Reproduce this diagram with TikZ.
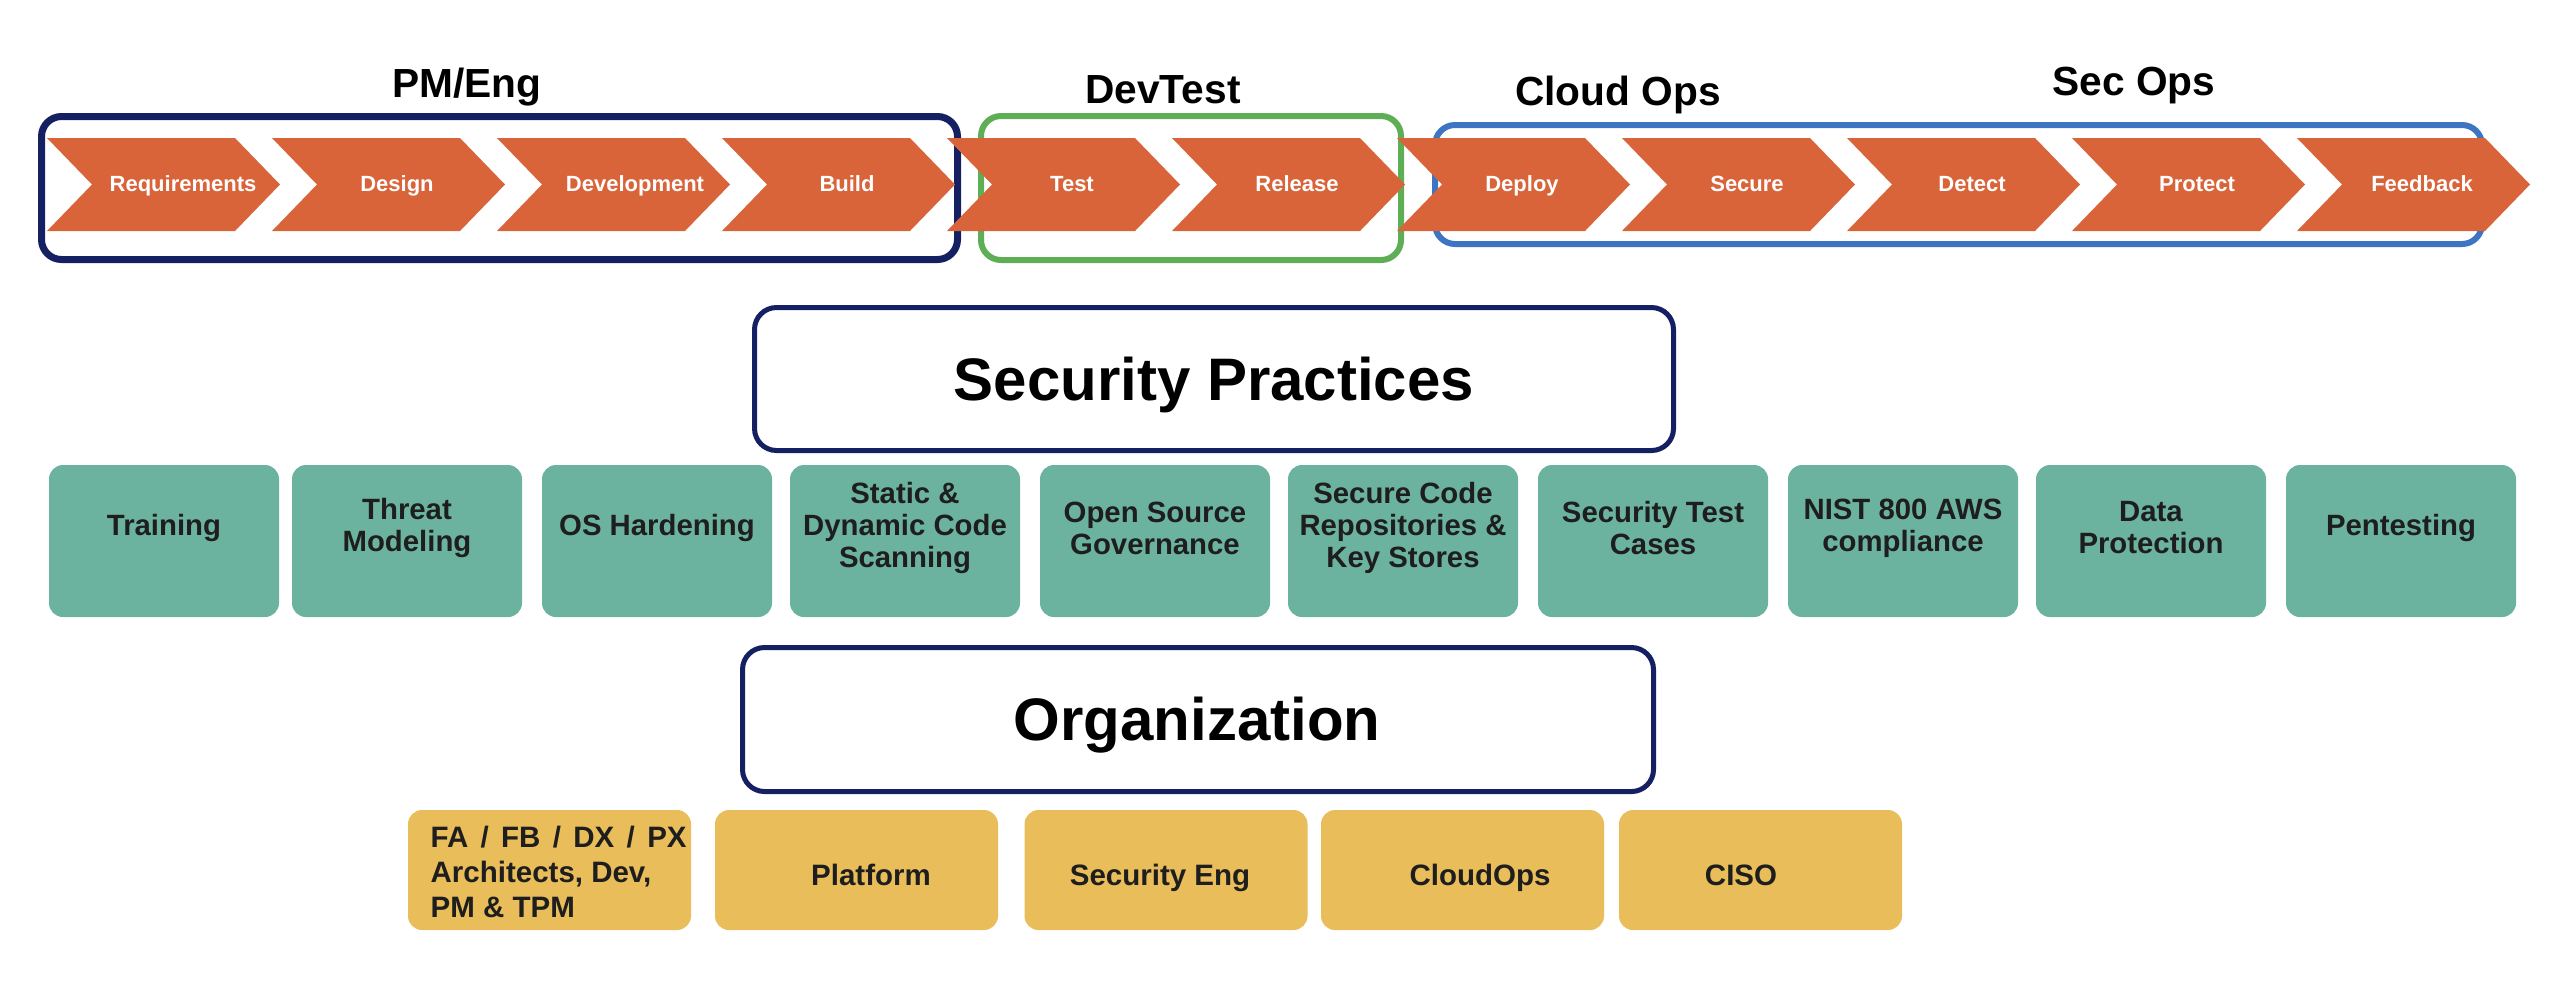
\documentclass[tikz,border=0pt]{standalone}
\usepackage{fontspec}
\setmainfont{Liberation Sans}
\definecolor{chevor}{HTML}{D9643A}
\definecolor{navyc}{HTML}{142062}
\definecolor{greenc}{HTML}{5DAE55}
\definecolor{bluec}{HTML}{3E75C3}
\definecolor{practeal}{HTML}{6BB39E}
\definecolor{orgyellow}{HTML}{E8BD5A}
\definecolor{txtdark}{HTML}{1E1E1E}
\newcommand\slsp{\hspace{3.7pt}/\hspace{3.7pt}}
\tikzset{
  grpbox/.style={rounded corners=6pt, inner sep=0pt},
  grptitle/.style={font=\bfseries\fontsize{12.2}{14}\selectfont, anchor=base, inner sep=0pt, text=black},
  chevtext/.style={font=\bfseries\fontsize{6.6}{8}\selectfont, anchor=base, inner sep=0pt, text=white},
  bigbox/.style={draw=navyc, line width=1.5pt, rounded corners=6.6pt, fill=white, inner sep=0pt},
  bigtext/.style={font=\bfseries\fontsize{18}{21}\selectfont, anchor=base, inner sep=0pt, text=black},
  pracbox/.style={fill=practeal, rounded corners=4.2pt, minimum width=69pt, minimum height=45.6pt, inner sep=0pt},
  practext/.style={font=\bfseries\fontsize{8.8}{9.6}\selectfont, align=center, inner sep=0pt, text=txtdark},
  orgbox/.style={fill=orgyellow, rounded corners=4.2pt, minimum width=84.9pt, minimum height=36pt, inner sep=0pt},
  orgtext/.style={font=\bfseries\fontsize{8.85}{10.5}\selectfont, inner sep=0pt, text=txtdark},
}
\begin{document}
\begin{tikzpicture}[x=0.3pt,y=-0.3pt]
\useasboundingbox (0,0) rectangle (2560,996);
% group frames
\node[grpbox, draw=navyc, line width=2.1pt, minimum width=274.8pt, minimum height=42.9pt] (gpm) at (499.5,188) {};
\node[grpbox, draw=greenc, line width=1.8pt, minimum width=126pt, minimum height=43.2pt] (gdev) at (1191,188) {};
\node[grpbox, draw=bluec, line width=1.8pt, minimum width=314.1pt, minimum height=35.7pt] (gops) at (1958.5,184.5) {};
% group titles
\node[grptitle] (tpm) at (467,97) {PM/Eng};
\node[grptitle] (tdev) at (1163,103) {DevTest};
\node[grptitle] (tcloud) at (1618,105) {Cloud Ops};
\node[grptitle] (tsec) at (2134,95) {Sec Ops};
% chevrons
\foreach \t/\dx [count=\i from 0] in {Requirements/136,Design/125,Development/138,Build/125,Test/125,Release/125,Deploy/125,Secure/125,Detect/125,Protect/125,Feedback/125}{
  \pgfmathsetmacro\cx{47+225*\i}
  \fill[chevor] (\cx,138) -- ++(188,0) -- ++(45,46.5) -- ++(-45,46.5) -- ++(-188,0) -- ++(45,-46.5) -- cycle;
  \node[chevtext] (ch\i) at (\cx+\dx,191.5) {\t};
}
% security practices
\node[bigbox, minimum width=275.7pt, minimum height=42.9pt] (secprac) at (1214,379) {};
\node[bigtext] (secpract) at (1214,400) {Security Practices};
\foreach \t/\cx [count=\i from 0] in {Training/164,Threat\\Modeling/407,OS Hardening/657,Static \&\\Dynamic Code\\Scanning/905,Open Source\\Governance/1155,Secure Code\\Repositories \&\\Key Stores/1403,Security Test\\Cases/1653,NIST 800 AWS\\compliance/1903,Data\\Protection/2151,Pentesting/2401}{
  \node[pracbox] (p\i) at (\cx,541) {};
  \node[practext] (pt\i) at (\cx,528) {\t};
}
% organization
\node[bigbox, minimum width=273.3pt, minimum height=43.2pt] (org) at (1198,719.5) {};
\node[bigtext] (orgt) at (1197,740) {Organization};
\node[orgbox] (o1) at (549.5,870) {};
\node[orgbox] (o2) at (856.5,870) {};
\node[orgbox] (o3) at (1166,870) {};
\node[orgbox] (o4) at (1462.5,870) {};
\node[orgbox] (o5) at (1760.5,870) {};
\node[orgtext, align=left, anchor=west] (o1t) at (430,872) {FA\slsp FB\slsp DX\slsp PX\\Architects, Dev,\\PM \& TPM};
\node[orgtext, anchor=base] (o2t) at (871,885) {Platform};
\node[orgtext, anchor=base] (o3t) at (1160,885) {Security Eng};
\node[orgtext, anchor=base] (o4t) at (1480,885) {CloudOps};
\node[orgtext, anchor=base] (o5t) at (1741,885) {CISO};
\end{tikzpicture}
\end{document}
